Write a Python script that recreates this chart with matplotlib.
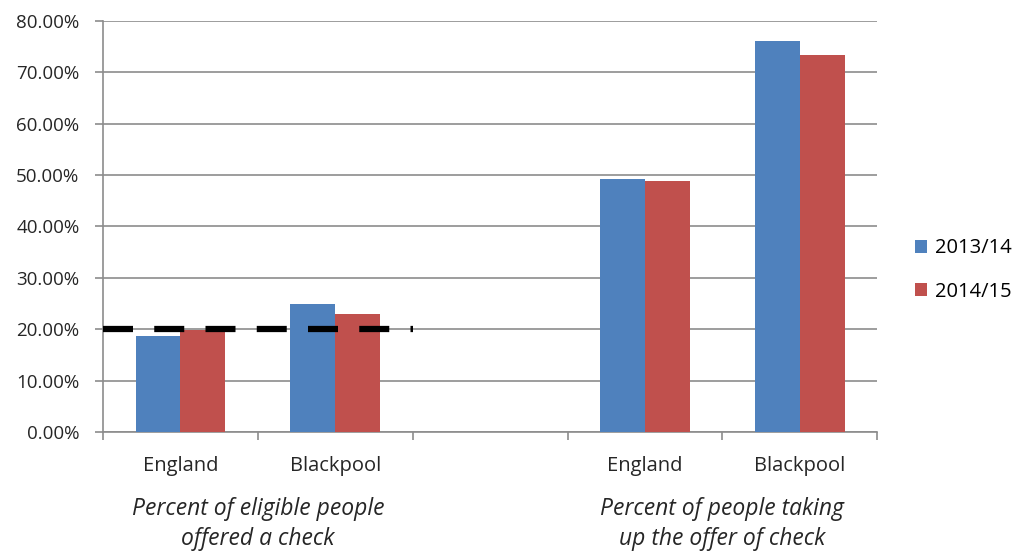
import matplotlib.pyplot as plt
import matplotlib.transforms as mtransforms
from matplotlib.ticker import FuncFormatter

# data
categories = ['England', 'Blackpool', '', 'England', 'Blackpool']
series_2013 = [18.7, 25.0, None, 49.2, 76.1]
series_2014 = [19.8, 22.9, None, 48.8, 73.3]
series_names = ['2013/14', '2014/15']
target = 20.0
group_labels = ['Percent of eligible people\noffered a check',
                'Percent of people taking\nup the offer of check']

plt.rcParams['font.family'] = ['Open Sans', 'DejaVu Sans']

fig = plt.figure(figsize=(10.2, 5.51), dpi=100)
ax = fig.add_axes([0.101, 0.216, 0.759, 0.746])

blue = '#4F81BD'
red = '#C0504D'
txt = '#262626'
w = 0.29
for i, (a, b) in enumerate(zip(series_2013, series_2014)):
    if a is None:
        continue
    ax.bar(i - w / 2, a, w, color=blue, label=series_names[0] if i == 0 else None, zorder=3)
    ax.bar(i + w / 2, b, w, color=red, label=series_names[1] if i == 0 else None, zorder=3)

# 20% reference line over the first group
ax.plot([-0.5, 1.5], [target, target], color='black', lw=4.5, dashes=(4.8, 3.4), zorder=4)

ax.set_xlim(-0.5, 4.5)
ax.set_ylim(0, 80)
ax.set_yticks(range(0, 81, 10))
ax.yaxis.set_major_formatter(FuncFormatter(lambda v, p: '{0:.2f}%'.format(v)))
ax.grid(axis='y', color='#8c8c8c', lw=1.2, zorder=0)

ax.set_xticks([0, 1, 3, 4])
ax.set_xticklabels([categories[i] for i in [0, 1, 3, 4]], fontsize=14.5)
ax.set_xticks([-0.5, 0.5, 1.5, 2.5, 3.5, 4.5], minor=True)
ax.tick_params(axis='x', which='major', length=0, pad=17, colors=txt)
ax.tick_params(axis='x', which='minor', length=6, color='#8c8c8c', width=1.2)
ax.tick_params(axis='y', length=6, color='#8c8c8c', width=1.2, labelsize=13.5,
               labelcolor=txt, pad=11)

for s in ['top', 'right']:
    ax.spines[s].set_visible(False)
for s in ['left', 'bottom']:
    ax.spines[s].set_color('#8c8c8c')
    ax.spines[s].set_linewidth(1.2)

trans = mtransforms.blended_transform_factory(ax.transData, fig.transFigure)
for xc, lab in zip([0.5, 3.5], group_labels):
    ax.text(xc, 0.098, lab, transform=trans, ha='center', va='top',
            fontsize=16.5, style='italic', color=txt, linespacing=1.33)

ax.legend(loc='center left', bbox_to_anchor=(0.897, 0.51), bbox_transform=fig.transFigure,
          frameon=False, fontsize=14.5, handlelength=0.6, handleheight=0.6,
          handletextpad=0.4, labelspacing=1.15, borderpad=0, borderaxespad=0)

fig.savefig('out.png', dpi=100)
